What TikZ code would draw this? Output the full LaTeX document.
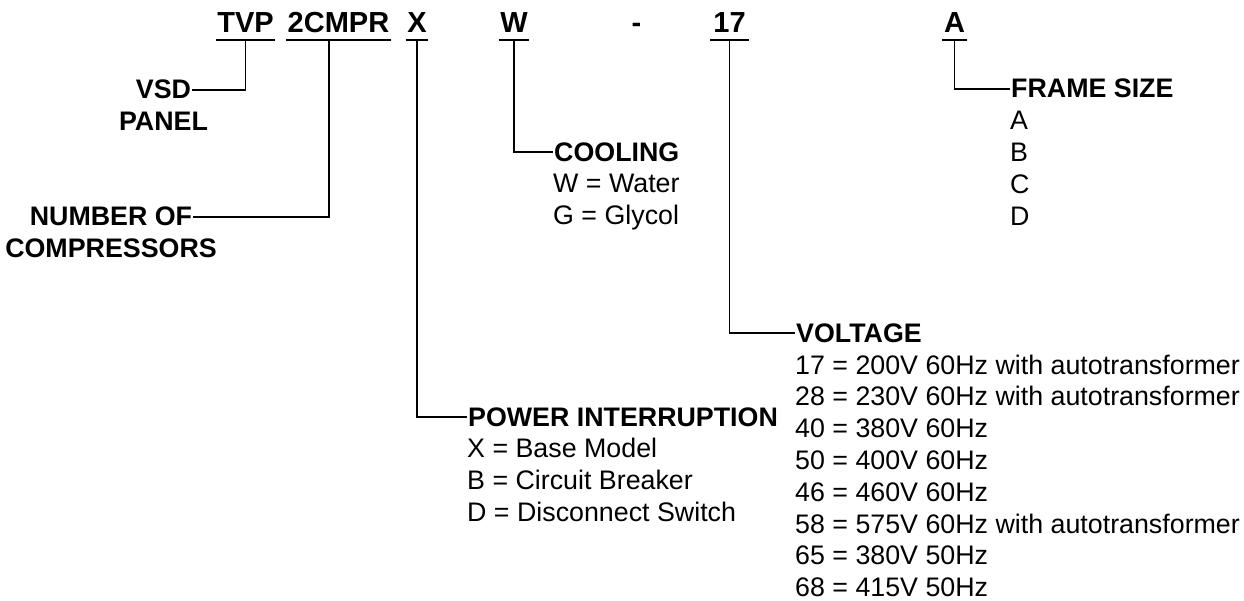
\documentclass[tikz,border=0pt]{standalone}
\usepackage{fontspec}
\setmainfont{Liberation Sans}
\usetikzlibrary{positioning}

\begin{document}
\begin{tikzpicture}[
    x=1pt, y=-1pt,
    every node/.style={inner xsep=1pt, inner ysep=0pt},
    code/.style={font=\fontsize{29}{32}\selectfont\bfseries, anchor=base, inner xsep=1.5pt, text depth=7pt},
    head/.style={font=\fontsize{26.8}{31.8}\selectfont\bfseries},
    list/.style={font=\fontsize{26.8}{31.8}\selectfont, align=left, anchor=base west, inner xsep=0pt},
    link/.style={draw, line width=1.8pt}
]
\useasboundingbox (0,0) rectangle (1244,601);

\node[code] (panelcode) at (245.5,33) {TVP};
\node[code] (cmprcode) at (338.5,33) {2CMPR};
\node[code] (powercode) at (417,33) {X};
\node[code] (coolcode) at (514,33) {W};
\node[code, text depth=0pt] (dash) at (636.5,33) {-};
\node[code, minimum width=39pt] (voltcode) at (729.5,33) {17};
\node[code] (framecode) at (954.5,33) {A};

\foreach \c in {panelcode, cmprcode, powercode, coolcode, voltcode, framecode}
    \draw[link] (\c.south west) -- (\c.south east);

\node[head, anchor=base] (vsd) at (163.5,99) {VSD};
\node[head, anchor=base] (panel) at ([yshift=-32pt]vsd.base) {PANEL};

\node[head, anchor=base] (numof) at (111,226) {NUMBER OF};
\node[head, anchor=base] (comp) at ([yshift=-31.5pt]numof.base) {COMPRESSORS};

\node[head, anchor=base west] (cool) at (553,161.5) {COOLING};
\node[list] (coollist) at ([yshift={-(31+1*31.8)*1pt}]cool.base west) {W = Water\\G = Glycol};

\node[head, anchor=base west] (power) at (467,426) {POWER INTERRUPTION};
\node[list] (powerlist) at ([yshift={-(31.5+2*31.8)*1pt}]power.base west) {X = Base Model\\B = Circuit Breaker\\D = Disconnect Switch};

\node[head, anchor=base west] (volt) at (795,342) {VOLTAGE};
\node[list] (voltlist) at ([yshift={-(32+7*31.8)*1pt}]volt.base west) {17 = 200V 60Hz with autotransformer\\28 = 230V 60Hz with autotransformer\\40 = 380V 60Hz\\50 = 400V 60Hz\\46 = 460V 60Hz\\58 = 575V 60Hz with autotransformer\\65 = 380V 50Hz\\68 = 415V 50Hz};

\node[head, anchor=base west] (frame) at (1010,98) {FRAME SIZE};
\node[list] (framelist) at ([yshift={-(32+3*31.8)*1pt}]frame.base west) {A\\B\\C\\D};

\draw[link] (panelcode.south) |- (vsd.east);
\draw[link] ([xshift=-9.5pt]cmprcode.south) |- (numof.east);
\draw[link] (powercode.south) |- (power.west);
\draw[link] (coolcode.south) |- (cool.west);
\draw[link] (voltcode.south) |- (volt.west);
\draw[link] (framecode.south) |- (frame.west);
\end{tikzpicture}
\end{document}
